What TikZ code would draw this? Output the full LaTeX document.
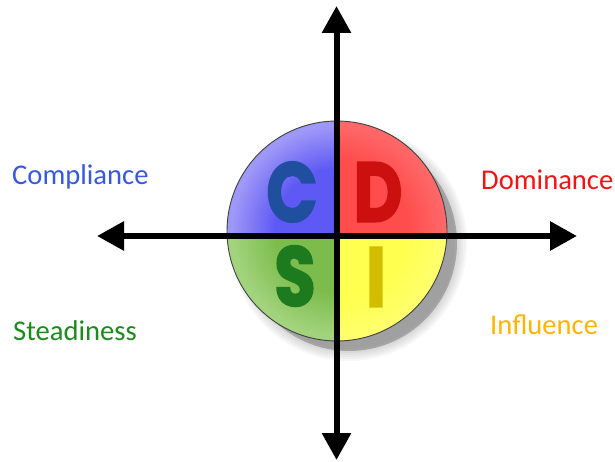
\documentclass[tikz,border=0pt]{standalone}
\usepackage{fontspec}
\setmainfont{Carlito}
\newfontfamily\discfont{Poppins}[BoldFeatures={FakeBold=2.5}]
\usetikzlibrary{arrows.meta}
\definecolor{blueIn}{HTML}{5E58F4}
\definecolor{blueOut}{HTML}{9E98F8}
\definecolor{redIn}{HTML}{FF4C4C}
\definecolor{redOut}{HTML}{FF6A6A}
\definecolor{greenIn}{HTML}{7CBC4C}
\definecolor{greenOut}{HTML}{A2D47E}
\definecolor{yelIn}{HTML}{FFFF50}
\definecolor{yelOut}{HTML}{FFFF70}
\definecolor{labC}{HTML}{3858E0}
\definecolor{labD}{HTML}{F01414}
\definecolor{labS}{HTML}{1C8A1C}
\definecolor{labI}{HTML}{FFB400}
\definecolor{letC}{HTML}{1F4F9E}
\definecolor{letD}{HTML}{CC1010}
\definecolor{letS}{HTML}{1E7A1E}
\definecolor{letI}{HTML}{D2BE00}
\pgfdeclareradialshading{qblue}{\pgfpoint{0bp}{0bp}}{color(0bp)=(blueIn); color(14bp)=(blueIn); color(24bp)=(blueOut); color(50bp)=(blueOut)}
\pgfdeclareradialshading{qred}{\pgfpoint{0bp}{0bp}}{color(0bp)=(redIn); color(16bp)=(redIn); color(25bp)=(redOut); color(50bp)=(redOut)}
\pgfdeclareradialshading{qgreen}{\pgfpoint{0bp}{0bp}}{color(0bp)=(greenIn); color(14bp)=(greenIn); color(24bp)=(greenOut); color(50bp)=(greenOut)}
\pgfdeclareradialshading{qyel}{\pgfpoint{0bp}{0bp}}{color(0bp)=(yelIn); color(16bp)=(yelIn); color(25bp)=(yelOut); color(50bp)=(yelOut)}
\tikzset{
  label/.style={font=\fontsize{28.6}{30}\selectfont, inner sep=0pt},
  letter/.style={font=\discfont\bfseries\fontsize{84}{84}\selectfont, inner sep=0pt, xscale=0.8},
  axis/.style={line width=6pt, {Triangle[length=27pt,width=28pt]}-{Triangle[length=27pt,width=28pt]}}
}
\begin{document}
\begin{tikzpicture}[x=1pt,y=-1pt]
\useasboundingbox (0,0) rectangle (615,462);
\coordinate (c) at (337,231);
% shadow
\fill[black, opacity=0.22] (349,243) circle (108);
\foreach \k in {0,2,...,12} {
  \fill[black, opacity=0.03] (349,243) circle (106+\k);
}
% quadrants
\begin{scope}
  \clip (0,0) rectangle (336.5,236);
  \shade[shading=qblue] (c) circle (110);
\end{scope}
\begin{scope}
  \clip (336.5,0) rectangle (615,236);
  \shade[shading=qred] (c) circle (110);
\end{scope}
\begin{scope}
  \clip (0,236) rectangle (336.5,462);
  \shade[shading=qgreen] (c) circle (110);
\end{scope}
\begin{scope}
  \clip (336.5,236) rectangle (615,462);
  \shade[shading=qyel] (c) circle (110);
\end{scope}
\draw[black!75, line width=0.9pt] (c) circle (110);
% letters
\node[letter, text=letC] (lc) at (292,192) {C};
\node[letter, text=letD] (ld) at (378,192) {D};
\node[letter, text=letS] (ls) at (295,276) {S};
\node[letter, text=letI] (li) at (376,277) {I};
% axes
\coordinate (top) at (336.5,6);
\coordinate (bot) at (336.5,460);
\coordinate (lft) at (97,236);
\coordinate (rgt) at (577,236);
\draw[axis] (bot) -- (top);
\draw[axis] (lft) -- (rgt);
% labels
\node[label, text=labC, anchor=base west] (cmp) at (12,185) {Compliance};
\node[label, text=labD, anchor=base west] (dom) at (481,190) {Dominance};
\node[label, text=labS, anchor=base west] (std) at (13,340) {Steadiness};
\node[label, text=labI, anchor=base west] (inf) at (490,334) {Influence};
\end{tikzpicture}
\end{document}
